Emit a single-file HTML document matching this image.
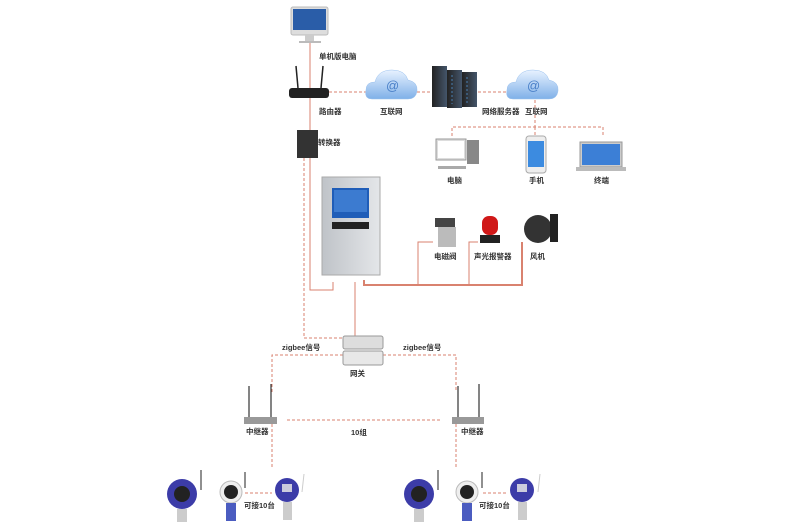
<!DOCTYPE html>
<html><head><meta charset="utf-8"><style>
html,body{margin:0;padding:0;background:#fff;}
svg{display:block;}
text{font-family:"Liberation Sans","Noto Sans CJK SC",sans-serif;font-size:7.5px;font-weight:bold;fill:#333;}
</style></head><body>
<svg width="790" height="527" viewBox="0 0 790 527" xmlns="http://www.w3.org/2000/svg">
<defs>
<linearGradient id="cl" x1="0" y1="0" x2="0" y2="1"><stop offset="0" stop-color="#e8f2ff"/><stop offset="1" stop-color="#7fb0e8"/></linearGradient>
<linearGradient id="sv" x1="0" y1="0" x2="1" y2="0"><stop offset="0" stop-color="#222"/><stop offset="1" stop-color="#44556a"/></linearGradient>
<linearGradient id="bx" x1="0" y1="0" x2="1" y2="0"><stop offset="0" stop-color="#bfc3c8"/><stop offset="1" stop-color="#e4e6e9"/></linearGradient>
</defs>
<g fill="none" stroke="#d9826f" stroke-width="1">
<!-- solid red lines -->
<polyline points="310,43 310,290 333,290 333,282"/>
<line x1="355" y1="282" x2="355" y2="336"/>
<polyline points="364,280 364,285 522,285 522,242" stroke-width="2"/>
<polyline points="418,285 418,242 433,242"/>
<polyline points="469,285 469,242 478,242"/>
<!-- dashed -->
<g stroke-dasharray="3,2">
<line x1="329" y1="92" x2="367" y2="92"/>
<line x1="417" y1="92" x2="432" y2="92"/>
<line x1="478" y1="92" x2="508" y2="92"/>
<polyline points="535,100 535,127"/>
<polyline points="452,136 452,127 603,127 603,136"/>
<line x1="535" y1="127" x2="535" y2="136"/>
<polyline points="304,158 304,338 343,338"/>
<polyline points="272,392 272,355 343,355"/>
<polyline points="383,355 456,355 456,392"/>
<line x1="287" y1="420" x2="442" y2="420"/>
<line x1="272" y1="424" x2="272" y2="467"/>
<line x1="456" y1="424" x2="456" y2="467"/>
<line x1="245" y1="493" x2="272" y2="493"/>
<line x1="483" y1="493" x2="508" y2="493"/>
</g>
</g>
<!-- monitor -->
<rect x="291" y="7" width="37" height="28" rx="2" fill="#ddd" stroke="#bbb"/>
<rect x="293" y="9" width="33" height="21" fill="#2a5da8"/>
<rect x="305" y="35" width="9" height="6" fill="#ccc"/><rect x="299" y="41" width="22" height="2" fill="#bbb"/>
<text x="319" y="59">单机版电脑</text>
<!-- router -->
<line x1="296" y1="66" x2="298" y2="88" stroke="#222" stroke-width="1.5"/>
<line x1="323" y1="66" x2="321" y2="88" stroke="#222" stroke-width="1.5"/>
<rect x="289" y="88" width="40" height="10" rx="3" fill="#222"/>
<text x="319" y="114">路由器</text>
<!-- clouds -->
<g fill="url(#cl)" stroke="#9cc2ee" stroke-width="0.5">
<path d="M372,99 Q364,99 366,90 Q366,82 375,82 Q378,70 392,70 Q405,70 408,80 Q418,82 417,91 Q416,99 408,99 Z"/>
<path d="M513,99 Q505,99 507,90 Q507,82 516,82 Q519,70 533,70 Q546,70 549,80 Q559,82 558,91 Q557,99 549,99 Z"/>
</g>
<text x="386" y="90" style="font-size:13px;fill:#4a80c8;font-weight:normal">@</text>
<text x="527" y="90" style="font-size:13px;fill:#4a80c8;font-weight:normal">@</text>
<text x="380" y="114">互联网</text>
<!-- server -->
<rect x="432" y="66" width="15" height="41" fill="url(#sv)"/>
<rect x="447" y="70" width="15" height="38" fill="url(#sv)"/>
<rect x="462" y="72" width="15" height="35" fill="url(#sv)"/>
<g stroke="#5ab0ff" stroke-width="0.6" stroke-dasharray="2,2"><line x1="452" y1="75" x2="452" y2="104"/><line x1="467" y1="77" x2="467" y2="104"/></g>
<text x="482" y="114">网络服务器</text><text x="525" y="114">互联网</text>
<!-- pc -->
<rect x="436" y="139" width="30" height="21" fill="#ddd" stroke="#999"/><rect x="438" y="141" width="26" height="17" fill="#fff"/>
<rect x="467" y="140" width="12" height="24" fill="#888"/><rect x="438" y="166" width="28" height="3" fill="#aaa"/>
<text x="447" y="183">电脑</text>
<!-- phone -->
<rect x="526" y="136" width="20" height="37" rx="3" fill="#eee" stroke="#aaa"/><rect x="528" y="141" width="16" height="26" fill="#3c8be0"/>
<text x="529" y="183">手机</text>
<!-- laptop -->
<rect x="580" y="142" width="42" height="25" fill="#ccc" stroke="#999"/><rect x="582" y="144" width="38" height="21" fill="#3c7fd6"/>
<rect x="576" y="167" width="50" height="4" fill="#bbb"/>
<text x="594" y="183">终端</text>
<!-- converter -->
<rect x="297" y="130" width="21" height="28" fill="#333"/>
<text x="318" y="145">转换器</text>
<!-- controller -->
<rect x="322" y="177" width="58" height="98" fill="url(#bx)" stroke="#aaa"/>
<rect x="332" y="188" width="37" height="30" fill="#1f5db8"/><rect x="334" y="190" width="33" height="22" fill="#5a9ae8" opacity="0.5"/>
<rect x="332" y="222" width="37" height="7" fill="#222"/>
<!-- valve, alarm, fan -->
<rect x="435" y="218" width="20" height="9" fill="#444"/><rect x="438" y="227" width="18" height="20" fill="#bbb"/>
<rect x="482" y="216" width="16" height="19" rx="7" fill="#d01818"/><rect x="480" y="235" width="20" height="8" fill="#222"/>
<circle cx="538" cy="229" r="14" fill="#333"/><rect x="550" y="214" width="8" height="28" fill="#222"/>
<text x="434" y="259">电磁阀</text><text x="474" y="259">声光报警器</text><text x="530" y="259">风机</text>
<!-- gateway -->
<rect x="343" y="336" width="40" height="13" rx="2" fill="#ddd" stroke="#999"/>
<rect x="343" y="351" width="40" height="14" rx="2" fill="#e8e8e8" stroke="#999"/>
<text x="350" y="376">网关</text>
<text x="282" y="350">zigbee信号</text><text x="403" y="350">zigbee信号</text>
<!-- repeaters -->
<g stroke="#333" stroke-width="1.2"><line x1="249" y1="386" x2="249" y2="417"/><line x1="271" y1="384" x2="271" y2="417"/><line x1="458" y1="386" x2="458" y2="417"/><line x1="479" y1="384" x2="479" y2="417"/></g>
<rect x="244" y="417" width="33" height="7" fill="#999"/><rect x="452" y="417" width="32" height="7" fill="#999"/>
<text x="246" y="434">中继器</text><text x="461" y="434">中继器</text><text x="351" y="435">10组</text>
<!-- detectors -->
<g>
<circle cx="182" cy="494" r="15" fill="#3c3ca8"/><circle cx="182" cy="494" r="8" fill="#222"/><rect x="177" y="509" width="10" height="13" fill="#ccc"/><line x1="201" y1="470" x2="201" y2="490" stroke="#222"/>
<circle cx="231" cy="492" r="11" fill="#eee" stroke="#bbb"/><circle cx="231" cy="492" r="7" fill="#222"/><rect x="226" y="503" width="10" height="18" fill="#4b5cc0"/><line x1="245" y1="472" x2="245" y2="488" stroke="#222"/>
<circle cx="287" cy="490" r="12" fill="#3c3ca8"/><rect x="282" y="484" width="10" height="8" fill="#ccd"/><rect x="283" y="502" width="9" height="18" fill="#ccc"/><line x1="304" y1="474" x2="302" y2="492" stroke="#ccc"/>
<circle cx="419" cy="494" r="15" fill="#3c3ca8"/><circle cx="419" cy="494" r="8" fill="#222"/><rect x="414" y="509" width="10" height="13" fill="#ccc"/><line x1="438" y1="470" x2="438" y2="490" stroke="#222"/>
<circle cx="467" cy="492" r="11" fill="#eee" stroke="#bbb"/><circle cx="467" cy="492" r="7" fill="#222"/><rect x="462" y="503" width="10" height="18" fill="#4b5cc0"/><line x1="482" y1="472" x2="482" y2="488" stroke="#222"/>
<circle cx="522" cy="490" r="12" fill="#3c3ca8"/><rect x="517" y="484" width="10" height="8" fill="#ccd"/><rect x="518" y="502" width="9" height="18" fill="#ccc"/><line x1="540" y1="474" x2="538" y2="492" stroke="#ccc"/>
</g>
<text x="244" y="508">可接10台</text><text x="479" y="508">可接10台</text>
</svg>
</body></html>
